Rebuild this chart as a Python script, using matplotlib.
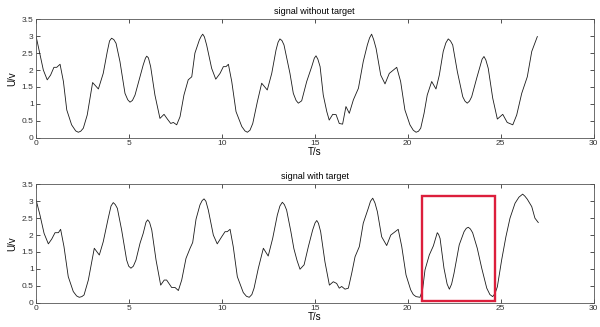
import matplotlib.pyplot as plt
from matplotlib.patches import Rectangle

# signal without target (t in s, U in v)
t_free = [0.02, 0.2, 0.41, 0.62, 0.8, 0.98, 1.13, 1.31, 1.49, 1.67, 1.93, 2.15, 2.29, 2.42,
          2.56, 2.77, 3.06, 3.37, 3.63, 3.85, 3.97, 4.08, 4.2, 4.32, 4.53, 4.8, 4.95, 5.07,
          5.2, 5.34, 5.61, 5.78, 5.9, 5.97, 6.06, 6.18, 6.41, 6.68, 6.9, 7.08, 7.26, 7.4,
          7.58, 7.76, 7.97, 8.2, 8.39, 8.56, 8.8, 8.9, 8.98, 9.07, 9.19, 9.46, 9.68, 9.91,
          10.09, 10.23, 10.36, 10.54, 10.77, 11.08, 11.25, 11.38, 11.52, 11.67, 11.92, 12.15,
          12.45, 12.69, 12.92, 13.03, 13.13, 13.24, 13.35, 13.67, 13.85, 14.0, 14.12, 14.3,
          14.57, 14.84, 14.98, 15.07, 15.17, 15.29, 15.46, 15.65, 15.78, 15.97, 16.15, 16.32,
          16.5, 16.68, 16.86, 17.08, 17.35, 17.61, 17.83, 17.95, 18.06, 18.17, 18.3, 18.55,
          18.78, 19.01, 19.23, 19.41, 19.62, 19.85, 20.12, 20.3, 20.45, 20.58, 20.7, 20.88,
          21.05, 21.29, 21.52, 21.7, 21.91, 22.05, 22.18, 22.3, 22.42, 22.67, 22.96, 23.08,
          23.2, 23.32, 23.44, 23.71, 23.92, 24.0, 24.1, 24.2, 24.33, 24.57, 24.82, 25.11,
          25.35, 25.65, 25.86, 26.13, 26.43, 26.67, 26.97]
u_free = [3.0, 2.54, 2.0, 1.71, 1.85, 2.08, 2.08, 2.17, 1.66, 0.82, 0.38, 0.2, 0.16, 0.19,
          0.28, 0.67, 1.63, 1.44, 1.9, 2.55, 2.86, 2.94, 2.9, 2.79, 2.25, 1.31, 1.12, 1.05,
          1.1, 1.26, 1.8, 2.15, 2.35, 2.41, 2.36, 2.1, 1.26, 0.57, 0.69, 0.55, 0.42, 0.45,
          0.38, 0.62, 1.26, 1.71, 1.8, 2.5, 2.89, 3.0, 3.06, 2.98, 2.74, 2.05, 1.73, 1.9,
          2.1, 2.1, 2.17, 1.66, 0.77, 0.33, 0.2, 0.16, 0.22, 0.42, 1.07, 1.61,
          1.41, 1.9, 2.59, 2.82, 2.92, 2.87, 2.74, 1.9, 1.31, 1.1, 1.02, 1.09,
          1.66, 2.1, 2.35, 2.42, 2.32, 2.1, 1.26, 0.77, 0.52, 0.69, 0.68, 0.42,
          0.4, 0.92, 0.72, 1.12, 1.46, 2.25, 2.74, 2.95, 3.06, 2.9, 2.64, 1.85,
          1.59, 1.9, 2.0, 2.08, 1.66, 0.82, 0.38, 0.22, 0.16, 0.19, 0.28, 0.72,
          1.26, 1.66, 1.44, 1.85, 2.55, 2.8, 2.92, 2.86, 2.74, 1.95, 1.21, 1.08,
          1.02, 1.08, 1.21, 1.76, 2.17, 2.32, 2.4, 2.3, 2.05, 1.17, 0.55, 0.69,
          0.45, 0.38, 0.67, 1.31, 1.8, 2.55, 2.99]

# signal with target
t_tgt = [0.02, 0.23, 0.45, 0.68, 0.86, 1.04, 1.22, 1.34, 1.52, 1.75, 2.02, 2.2, 2.34, 2.48,
         2.6, 2.83, 3.15, 3.42, 3.63, 3.9, 4.05, 4.17, 4.28, 4.39, 4.62, 4.89, 5.0, 5.12,
         5.25, 5.39, 5.61, 5.78, 5.93, 6.02, 6.12, 6.24, 6.47, 6.72, 6.91, 7.04, 7.31, 7.49,
         7.67, 7.85, 8.08, 8.3, 8.44, 8.62, 8.83, 8.95, 9.05, 9.15, 9.28, 9.55, 9.76, 10.0,
         10.18, 10.3, 10.45, 10.62, 10.84, 11.16, 11.33, 11.48, 11.62, 11.74, 11.97, 12.24,
         12.5, 12.74, 12.99, 13.13, 13.26, 13.37, 13.49, 13.72, 13.88, 14.05, 14.21, 14.43,
         14.66, 14.89, 15.02, 15.11, 15.2, 15.32, 15.55, 15.79, 16.0, 16.18, 16.32, 16.45,
         16.63, 16.81, 16.99, 17.17, 17.4, 17.61, 17.88, 18.0, 18.12, 18.24, 18.37, 18.6,
         18.87, 19.09, 19.32, 19.49, 19.68, 19.91, 20.16, 20.3, 20.45, 20.66, 20.8, 20.93,
         21.16, 21.38, 21.5, 21.59, 21.66, 21.74, 21.95, 22.12, 22.24, 22.36, 22.49, 22.77,
         23.03, 23.15, 23.26, 23.37, 23.49, 23.74, 23.98, 24.25, 24.42, 24.57, 24.7, 24.82,
         25.05, 25.28, 25.5, 25.77, 25.98, 26.18, 26.3, 26.43, 26.67, 26.84, 27.02]
u_tgt = [3.04, 2.59, 2.05, 1.74, 1.88, 2.07, 2.07, 2.17, 1.66, 0.77, 0.33, 0.2, 0.16, 0.18,
         0.23, 0.67, 1.61, 1.41, 1.8, 2.5, 2.86, 2.96, 2.9, 2.79, 2.15, 1.26, 1.08, 1.02,
         1.08, 1.26, 1.76, 2.05, 2.38, 2.45, 2.38, 2.15, 1.26, 0.52, 0.67, 0.67, 0.45, 0.45,
         0.36, 0.67, 1.31, 1.61, 1.78, 2.47, 2.89, 3.02, 3.07, 3.0, 2.74, 2.0, 1.74, 1.95,
         2.1, 2.1, 2.17, 1.66, 0.77, 0.3, 0.19, 0.16, 0.24, 0.43, 1.02, 1.61,
         1.38, 1.9, 2.59, 2.86, 2.97, 2.9, 2.74, 2.1, 1.6, 1.25, 0.99, 1.12,
         1.66, 2.15, 2.36, 2.43, 2.35, 2.1, 1.21, 0.52, 0.62, 0.57, 0.43, 0.48,
         0.4, 0.43, 0.87, 1.36, 1.66, 2.35, 2.79, 3.0, 3.09, 2.95, 2.69, 1.95,
         1.69, 2.0, 2.1, 2.17, 1.66, 0.82, 0.38, 0.24, 0.18, 0.16, 0.38, 0.97,
         1.41, 1.68, 1.9, 2.07, 2.02, 1.9, 1.02, 0.55, 0.4, 0.55, 0.87, 1.71,
         2.1, 2.2, 2.23, 2.18, 2.07, 1.61, 1.02, 0.43, 0.24, 0.18, 0.28, 0.47,
         1.26, 1.95, 2.5, 2.94, 3.12, 3.21, 3.15, 3.06, 2.84, 2.5, 2.37]

# marked region in the lower plot
box_t = (20.75, 24.69)
box_u = (0.06, 3.16)

xticks = [0, 5, 10, 15, 20, 25, 30]
yticks = [0, 0.5, 1, 1.5, 2, 2.5, 3, 3.5]
yticklabels = ['0', '0.5', '1', '1.5', '2', '2.5', '3', '3.5']

plt.rcParams['font.family'] = ['Liberation Sans', 'DejaVu Sans']

fig = plt.figure(figsize=(6, 3.27), dpi=100)
ax1 = fig.add_axes([0.0595, 0.579, 0.93, 0.362])
ax2 = fig.add_axes([0.0595, 0.0743, 0.93, 0.362])

for ax, t, u, title in [(ax1, t_free, u_free, 'signal without target'),
                        (ax2, t_tgt, u_tgt, 'signal with target')]:
    ax.plot(t, u, color='#1a1a1a', linewidth=0.6, solid_joinstyle='round')
    ax.set_xlim(0, 30)
    ax.set_ylim(0, 3.5)
    ax.set_xticks(xticks)
    ax.set_yticks(yticks)
    ax.set_yticklabels(yticklabels)
    ax.tick_params(direction='in', top=True, right=True, labelsize=6, length=3,
                   width=0.6, colors='#333333', pad=1.5)
    for s in ax.spines.values():
        s.set_linewidth(0.6)
        s.set_color('#555555')
    ax.set_title(title, fontsize=6.5, pad=4)
    ax.set_xlabel('T/s', fontsize=7, labelpad=0)
    ax.set_ylabel('U/v', fontsize=7, labelpad=3)

ax2.add_patch(Rectangle((box_t[0], box_u[0]), box_t[1] - box_t[0], box_u[1] - box_u[0],
                        fill=False, edgecolor='#dc1e3c', linewidth=1.7, zorder=5))

fig.savefig('out.png', dpi=100)
